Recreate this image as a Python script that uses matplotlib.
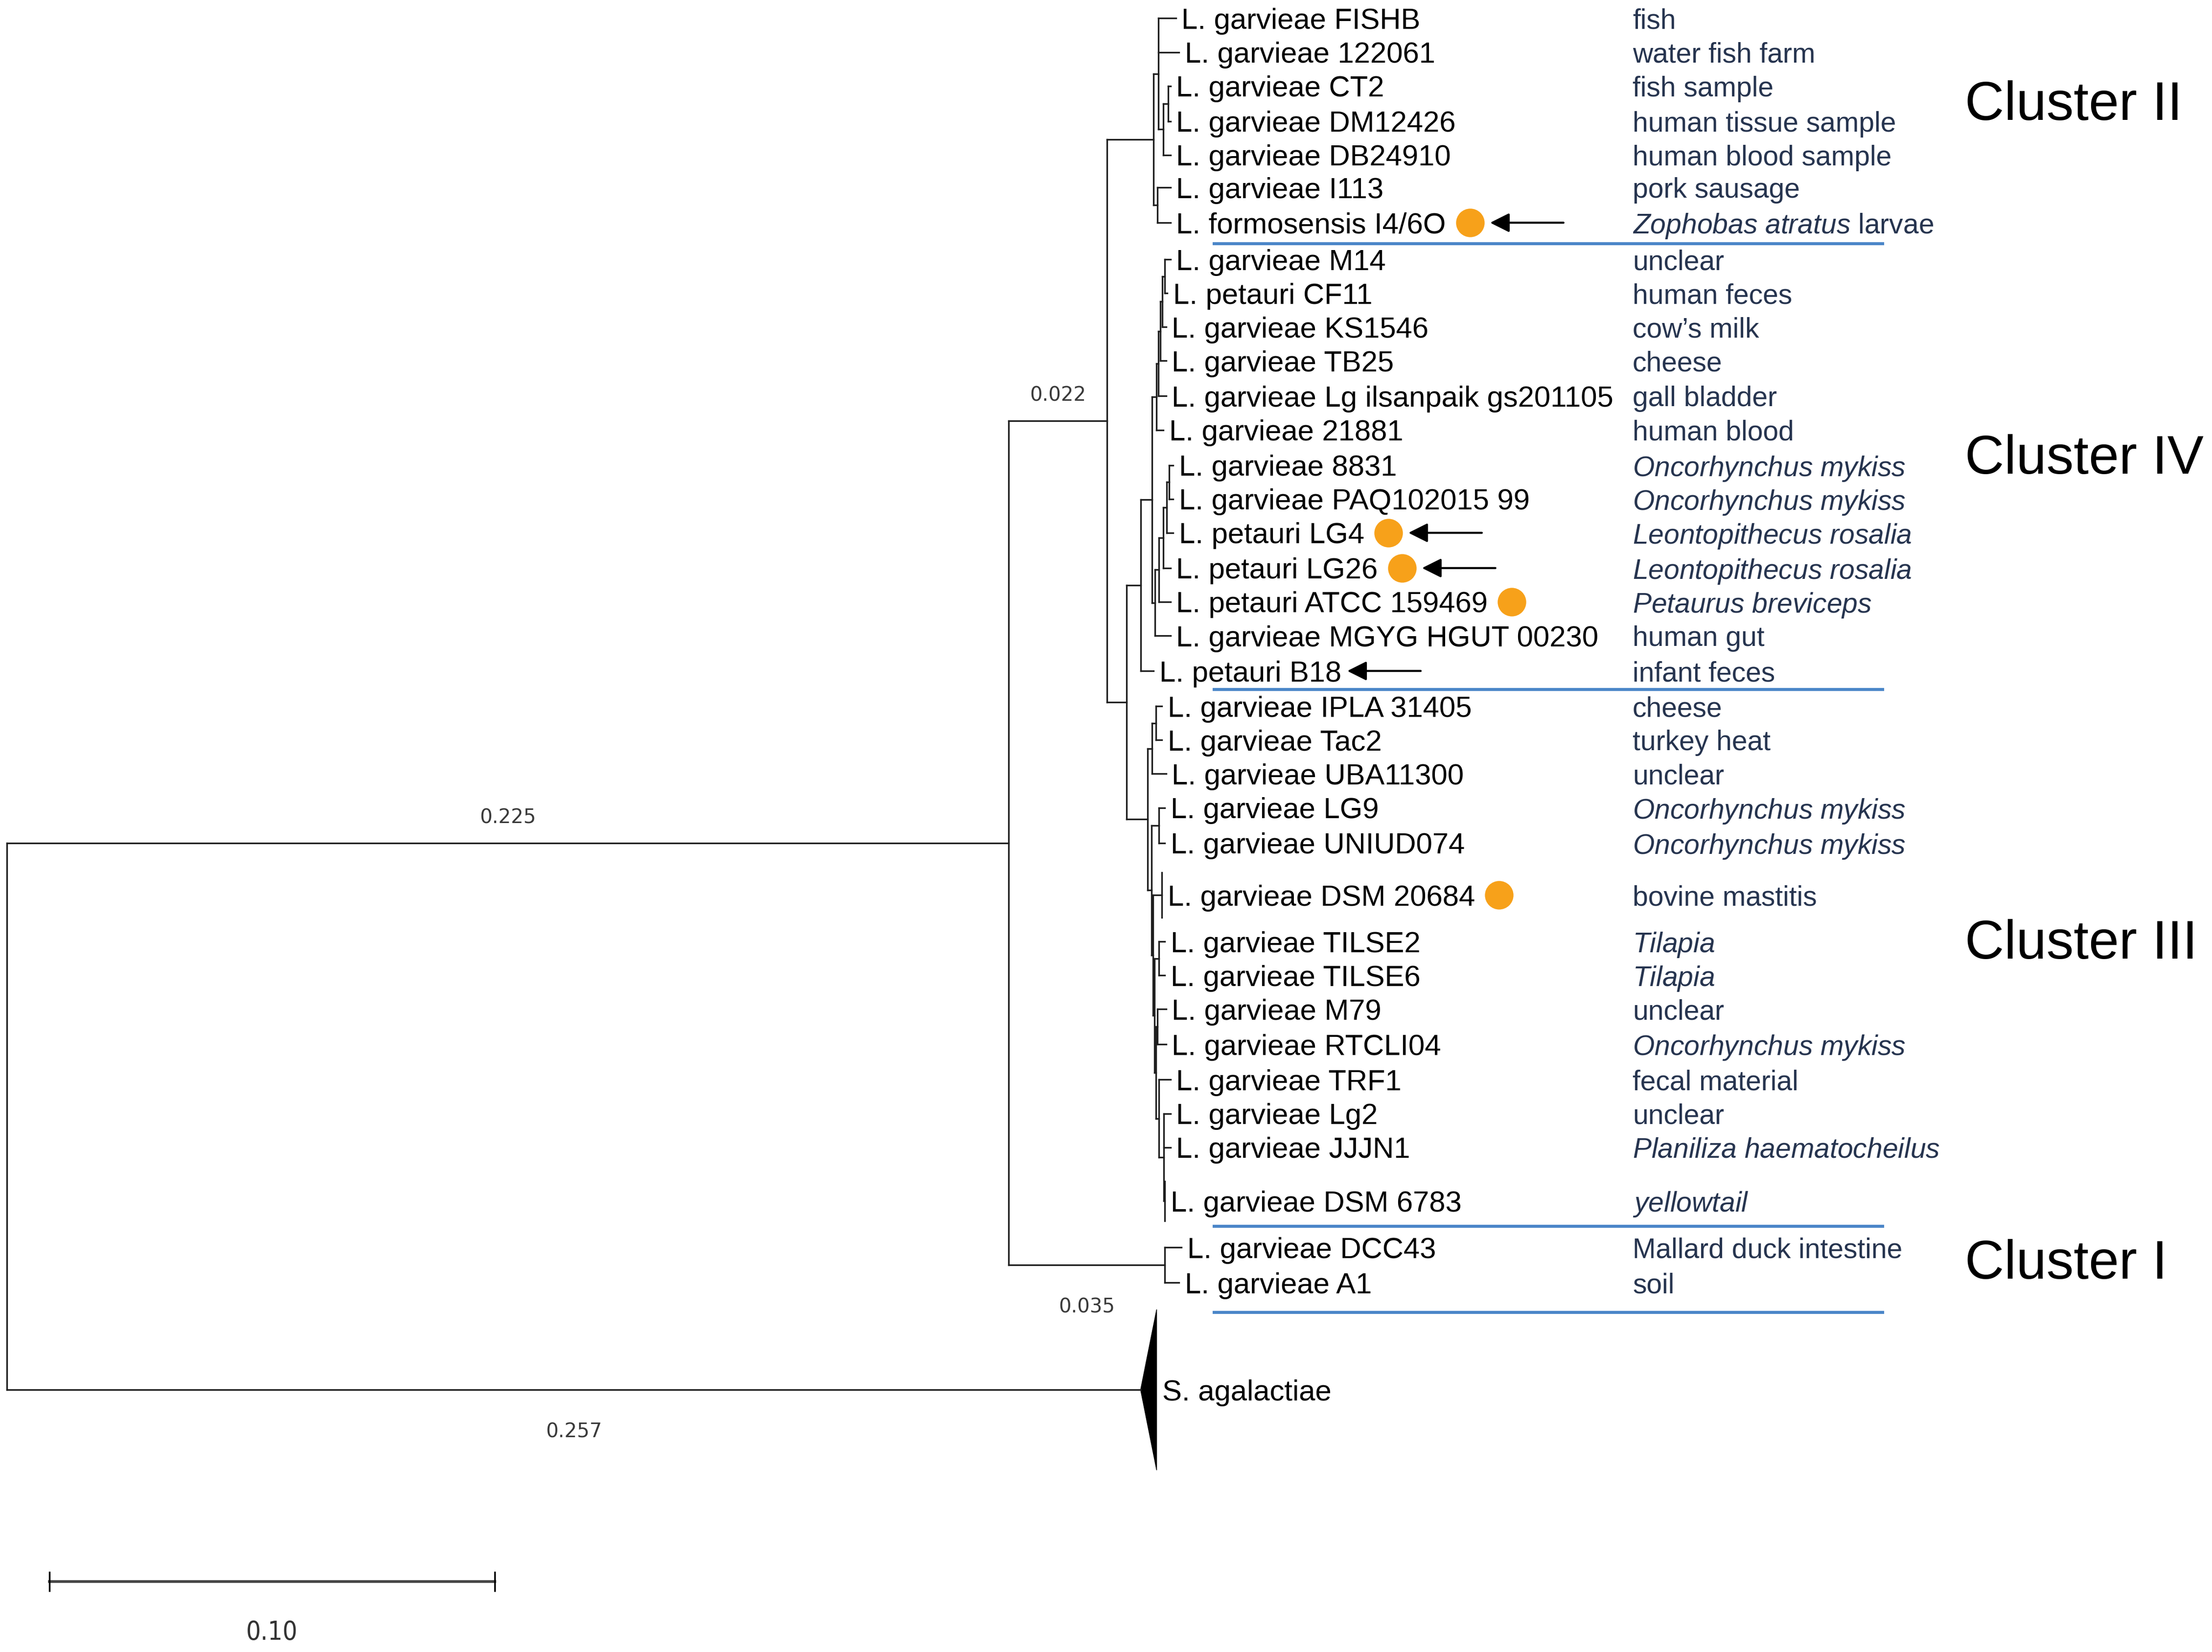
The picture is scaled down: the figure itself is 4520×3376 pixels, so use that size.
import matplotlib
matplotlib.use('Agg')
import matplotlib.pyplot as plt
from matplotlib.collections import LineCollection
from matplotlib.patches import Polygon

plt.rcParams['font.family'] = ['Liberation Sans', 'DejaVu Sans']
plt.rcParams['mathtext.fontset'] = 'custom'
plt.rcParams['mathtext.rm'] = 'Liberation Sans'
plt.rcParams['mathtext.it'] = 'Liberation Sans:italic'

# tip labels, host of origin, row positions and tip depths (substitutions/site)
names = ["L. garvieae FISHB", "L. garvieae 122061", "L. garvieae CT2", "L. garvieae DM12426",
         "L. garvieae DB24910", "L. garvieae I113", "L. formosensis I4/6O", "L. garvieae M14",
         "L. petauri CF11", "L. garvieae KS1546", "L. garvieae TB25", "L. garvieae Lg ilsanpaik gs201105",
         "L. garvieae 21881", "L. garvieae 8831", "L. garvieae PAQ102015 99", "L. petauri LG4",
         "L. petauri LG26", "L. petauri ATCC 159469", "L. garvieae MGYG HGUT 00230", "L. petauri B18",
         "L. garvieae IPLA 31405", "L. garvieae Tac2", "L. garvieae UBA11300", "L. garvieae LG9",
         "L. garvieae UNIUD074", "L. garvieae DSM 20684", "L. garvieae TILSE2", "L. garvieae TILSE6",
         "L. garvieae M79", "L. garvieae RTCLI04", "L. garvieae TRF1", "L. garvieae Lg2",
         "L. garvieae JJJN1", "L. garvieae DSM 6783", "L. garvieae DCC43", "L. garvieae A1",
         "S. agalactiae"]
onco = r"$\mathit{Oncorhynchus\ mykiss}$"
hosts = ["fish", "water fish farm", "fish sample", "human tissue sample", "human blood sample",
         "pork sausage", r"$\mathit{Zophobas\ atratus}$ larvae", "unclear", "human feces",
         "cow\u2019s milk", "cheese", "gall bladder", "human blood", onco, onco,
         r"$\mathit{Leontopithecus\ rosalia}$", r"$\mathit{Leontopithecus\ rosalia}$",
         r"$\mathit{Petaurus\ breviceps}$", "human gut", "infant feces", "cheese", "turkey heat",
         "unclear", onco, onco, "bovine mastitis", r"$\mathit{Tilapia}$", r"$\mathit{Tilapia}$",
         "unclear", onco, "fecal material", "unclear", r"$\mathit{Planiliza\ haematocheilus}$",
         r"$\mathit{yellowtail}$", "Mallard duck intestine", "soil", ""]
tip_y = [13, 37, 61, 86, 110, 133, 158, 184, 208, 232, 256, 281, 305, 330, 354, 378, 403, 427,
         451, 476, 501, 525, 549, 573, 598, 635, 668, 692, 716, 741, 766, 790, 814, 852, 885, 910, 986]
tip_depth = [0.2625, 0.2632, 0.2613, 0.2613, 0.2613, 0.2613, 0.2613, 0.2613, 0.2606, 0.2603,
             0.2603, 0.2603, 0.2597, 0.2619, 0.2619, 0.2619, 0.2613, 0.2613, 0.2613, 0.2575,
             0.2594, 0.2594, 0.2603, 0.2600, 0.2600, 0.2594, 0.2600, 0.2600, 0.2603, 0.2603,
             0.2613, 0.2613, 0.2613, 0.2600, 0.2638, 0.2632, 0.2546]
# collapsed clades: tip index -> (depth width, half height in rows)
collapsed = {25: (0.0, 16), 33: (0.0, 14), 36: (0.0036, 57)}
marked = [6, 15, 16, 17, 25]
arrowed = [6, 15, 16, 19]

# (name, node depth, children)
tree = ("root", 0.0, [
    ("A", 0.225, [
        ("B", 0.247, [
            ("CII", 0.2575, [
                ("", 0.2586, [0, 1, ("", 0.2597, [("", 0.2608, [2, 3]), 4])]),
                ("", 0.2584, [5, 6])]),
            ("C", 0.2514, [
                ("D", 0.2546, [
                    ("CIV", 0.2572, [
                        ("", 0.2581, [("", 0.2586, [("", 0.2590, [("", 0.2595, [
                            ("", 0.2600, [7, 8]), 9]), 10]), 11]), 12]),
                        ("", 0.2578, [("", 0.2587, [("", 0.2597, [("", 0.2605, [
                            ("", 0.2610, [13, 14]), 15]), 16]), 17]), 18])]),
                    19]),
                ("CIII", 0.2562, [
                    ("", 0.2572, [("", 0.2580, [20, 21]), 22]),
                    ("", 0.2570, [
                        ("", 0.2587, [23, 24]),
                        ("", 0.2574, [25, ("", 0.2577, [
                            ("", 0.2587, [26, 27]),
                            ("", 0.2580, [("", 0.2584, [28, 29]),
                                          ("", 0.2587, [30, ("", 0.2598, [31, 32, 33])])])])])])])])]),
        ("CI", 0.260, [34, 35])]),
    36])

branch_labels = {"A": "0.225", "B": "0.022", "CI": "0.035", "t36": "0.257"}
labels_above = ["A", "B"]

clusters = ["Cluster II", "Cluster IV", "Cluster III", "Cluster I"]
cluster_y = [75, 326, 670, 897]
separator_y = [173, 489, 870, 931]

line_col = '#1f1f1f'
host_col = '#26344f'
orange = '#f7a11a'
blue = '#4b86c8'

fig = plt.figure(figsize=(45.2, 33.76), dpi=100)
ax = fig.add_axes([0, 0, 1, 1])
ax.set_xlim(-0.00159, 0.49524)
ax.set_ylim(1172, 0)
ax.axis('off')

segs = []
pos = {}


def layout(node, parent_x):
    if isinstance(node, int):
        x, y = tip_depth[node], tip_y[node]
        pos["t%d" % node] = (parent_x, x, y)
        return x, y
    key, x, kids = node
    pts = [layout(k, x) for k in kids]
    y = (pts[0][1] + pts[-1][1]) / 2
    segs.append([(x, pts[0][1]), (x, pts[-1][1])])
    for cx, cy in pts:
        segs.append([(x, cy), (cx, cy)])
    if key:
        pos[key] = (parent_x, x, y)
    return x, y


layout(tree, 0.0)

for i, (w, h) in collapsed.items():
    x, y = tip_depth[i], tip_y[i]
    if w == 0:
        segs.append([(x, y - h), (x, y + h)])
    else:
        ax.add_patch(Polygon([(x, y), (x + w, y - h), (x + w, y + h)], closed=True,
                             facecolor='black', edgecolor='black', lw=1))

ax.add_collection(LineCollection(segs, colors=line_col, linewidths=2.4, capstyle='projecting'))

# branch length labels
for key, txt in branch_labels.items():
    px, x, y = pos[key]
    dy = 37 if key in labels_above else -62
    ax.annotate(txt, ((px + x) / 2, y), xytext=(0, dy), textcoords='offset points',
                ha='center', va='center', fontsize=29, color='#3a3a3a', family='DejaVu Sans')

# tip names and hosts
name_texts = {}
for i, nm in enumerate(names):
    x = tip_depth[i] + (collapsed[i][0] if i in collapsed else 0)
    name_texts[i] = ax.annotate(nm, (x, tip_y[i]), xytext=(8.5, 0), textcoords='offset points',
                                ha='left', va='center_baseline', fontsize=43, color='black')
    if hosts[i]:
        ax.text(0.3651, tip_y[i], hosts[i], ha='left', va='center_baseline', fontsize=41,
                color=host_col)

for lab, cy in zip(clusters, cluster_y):
    ax.text(0.4397, cy, lab, ha='left', va='center', fontsize=80, color='black')

for sy in separator_y:
    ax.plot([0.2708, 0.4216], [sy, sy], color=blue, lw=4.5, solid_capstyle='butt')

# scale bar
ax.plot([0.0095, 0.1095], [1122, 1122], color='#444444', lw=4)
for sx in [0.0095, 0.1095]:
    ax.plot([sx, sx], [1115.5, 1128.5], color='black', lw=2.5)
ax.text(0.0595, 1158, "0.10", ha='center', va='center', fontsize=38, color='#333333',
        family='DejaVu Sans', fontstretch='condensed')

# orange dots and arrows placed after the rendered names
fig.canvas.draw()
rend = fig.canvas.get_renderer()
inv = ax.transData.inverted()
for i in sorted(set(marked) | set(arrowed)):
    bb = name_texts[i].get_window_extent(rend)
    py = ax.transData.transform((0, tip_y[i]))[1]
    end = bb.x1
    if i in marked:
        cx = end + 20 + 29
        dx, dy = inv.transform((cx, py))
        ax.plot(dx, dy, 'o', ms=42, color=orange, mec='none')
        end = cx + 29
    if i in arrowed:
        head = end + 12
        ax.annotate('', xy=inv.transform((head, py)), xytext=inv.transform((head + 150, py)),
                    arrowprops=dict(arrowstyle='-|>,head_length=0.6,head_width=0.3',
                                    mutation_scale=40, lw=3, color='black',
                                    shrinkA=0, shrinkB=0))

fig.savefig('out.png', dpi=100, facecolor='white')
